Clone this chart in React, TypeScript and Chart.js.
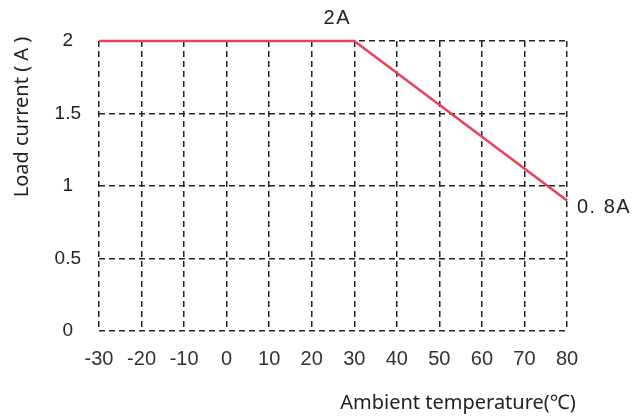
import React, { useEffect, useRef } from "react";
import { Chart, registerables } from "chart.js";

Chart.register(...registerables);

const temperatures = [-30, 30, 80];
const currents = [2, 2, 0.9];
const yTicks = [0, 0.5, 1, 1.5, 2];
const xTitle = "Ambient temperature(℃)";
const yTitle = "Load current ( A )";
const topLabel = "2A";
const endLabel = "0. 8A";

const textPlugin = {
  id: "textPlugin",
  afterDraw(chart: any) {
    const { ctx, chartArea, scales } = chart;
    const x = scales.x;
    const y = scales.y;
    ctx.save();
    ctx.fillStyle = "#222";
    ctx.font = '20px "Liberation Sans", Arial, sans-serif';
    ctx.textBaseline = "middle";
    ctx.textAlign = "center";
    (ctx as any).letterSpacing = "1.5px";
    ctx.fillText(topLabel, x.getPixelForValue(30) - 17, chartArea.top - 23);
    ctx.textAlign = "left";
    ctx.fillText(endLabel, chartArea.right + 10, y.getPixelForValue(currents[currents.length - 1]) + 7);
    (ctx as any).letterSpacing = "0px";
    ctx.font = '20px "Noto Sans", sans-serif';
    ctx.textAlign = "center";
    ctx.fillText(xTitle, 458, chartArea.bottom + 72);
    ctx.translate(22, 117);
    ctx.rotate(-Math.PI / 2);
    ctx.fillText(yTitle, 0, 0);
    ctx.restore();
  },
};

export default function App() {
  const ref = useRef<HTMLCanvasElement>(null);
  useEffect(() => {
    if (!ref.current) return;
    const chart = new Chart(ref.current, {
      type: "line",
      data: {
        datasets: [
          {
            data: temperatures.map((t, i) => ({ x: t, y: currents[i] })),
            borderColor: "#E8405A",
            borderWidth: 2.5,
            pointRadius: 0,
            tension: 0,
            clip: false as any,
          },
        ],
      },
      options: {
        animation: false,
        responsive: false,
        maintainAspectRatio: false,
        layout: { padding: { left: 0, right: 65, top: 41, bottom: 48 } },
        plugins: { legend: { display: false }, tooltip: { enabled: false } },
        scales: {
          x: {
            type: "linear",
            min: -30,
            max: 80,
            afterFit: (s: any) => {
              s.height = 40;
            },
            ticks: {
              stepSize: 10,
              padding: 16,
              color: "#333",
              font: { family: '"Liberation Sans Narrow", "Liberation Sans", sans-serif', size: 20 },
            },
            grid: { color: "#222", lineWidth: 1.5, drawTicks: false },
            border: { display: false, dash: [6, 4] },
          },
          y: {
            type: "linear",
            min: 0,
            max: 2,
            afterFit: (s: any) => {
              s.width = 99;
            },
            afterBuildTicks: (s: any) => {
              s.ticks = yTicks.map((v) => ({ value: v }));
            },
            ticks: {
              padding: 18,
              crossAlign: "center",
              color: "#222",
              font: { family: '"Liberation Sans", Arial, sans-serif', size: 19 },
              callback: (v: any) => String(v),
            },
            grid: { color: "#222", lineWidth: 1.5, drawTicks: false },
            border: { display: false, dash: [6, 4] },
          },
        },
      },
      plugins: [textPlugin],
    });
    return () => chart.destroy();
  }, []);
  return (
    <div style={{ position: "fixed", left: 0, top: 0, width: 632, height: 419, background: "#fff" }}>
      <canvas ref={ref} width={632} height={419} style={{ width: 632, height: 419 }} />
    </div>
  );
}
